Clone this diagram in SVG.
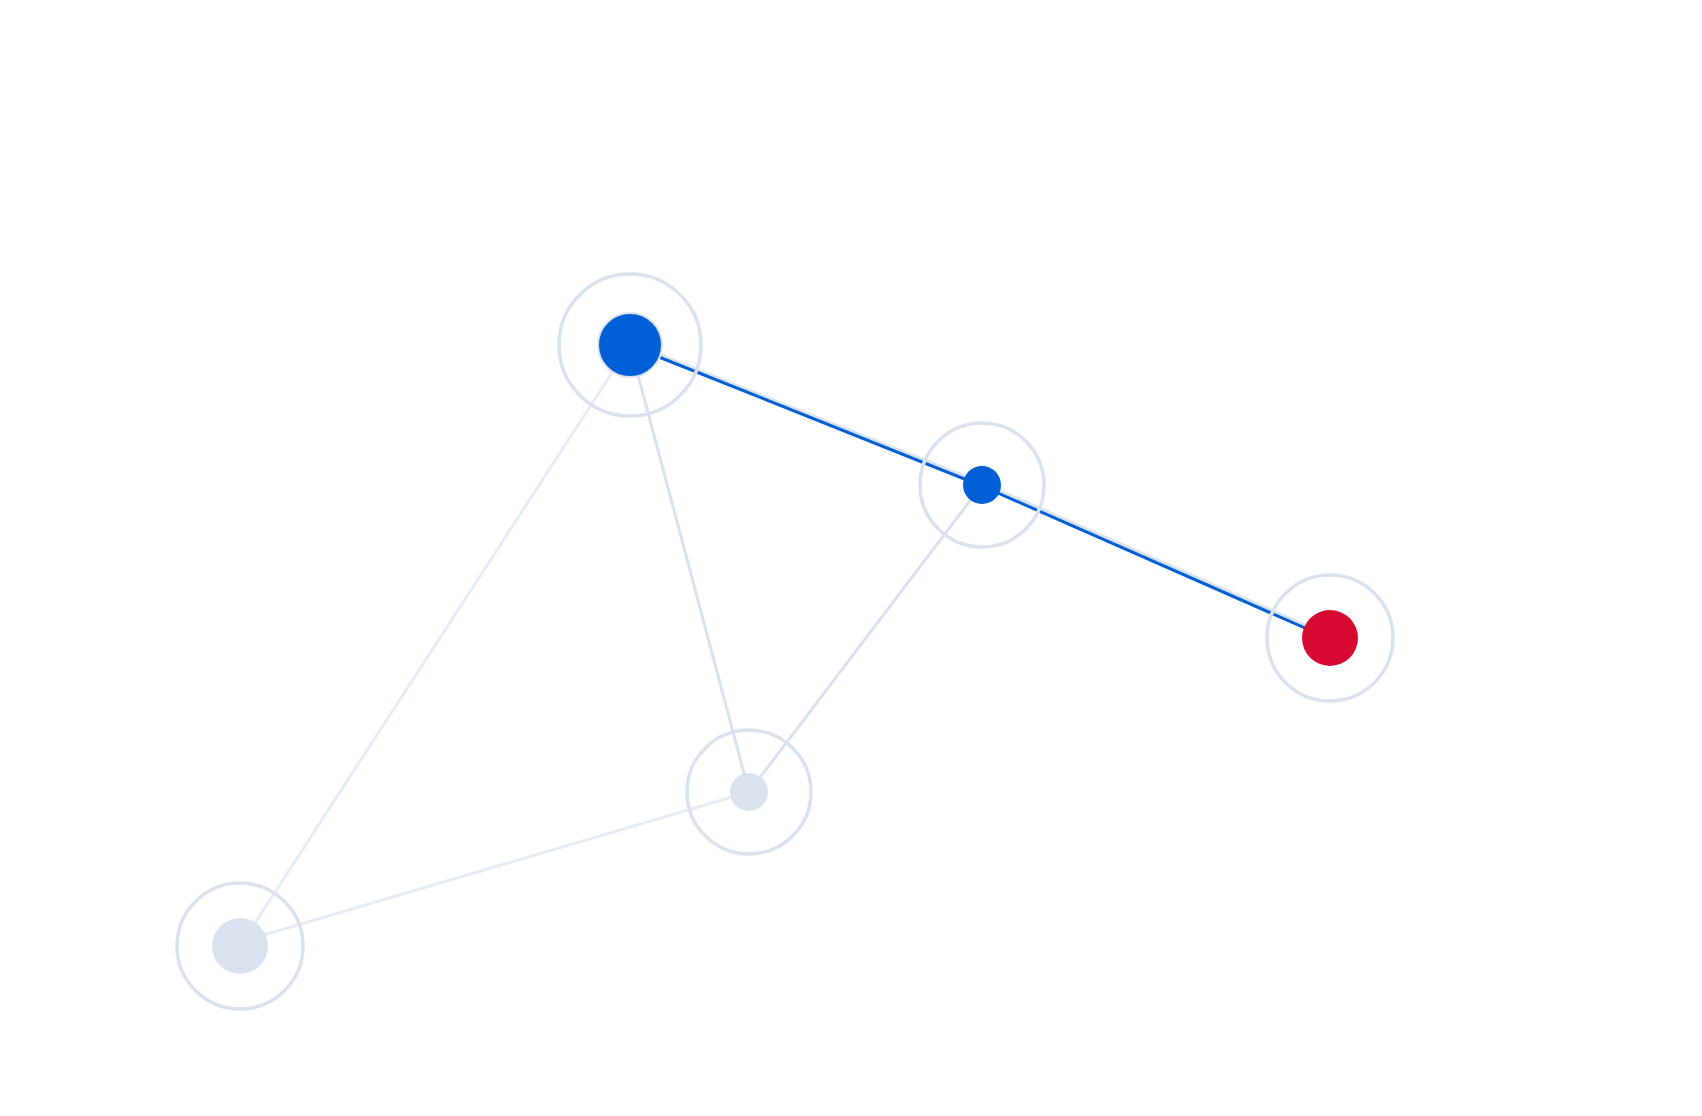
<svg xmlns="http://www.w3.org/2000/svg" width="1702" height="1116" viewBox="0 0 1702 1116">
<style>
.edge{stroke:#dae2f0;stroke-width:3;fill:none;stroke-linecap:round}
.edge.faint{stroke:#e6ecf6}
.path{stroke:#005fd4;stroke-width:3;fill:none;stroke-linecap:round;stroke-linejoin:round}
.halo{fill:none;stroke:#dae2f0;stroke-width:3.5}
.blue{fill:#005fd4}
.red{fill:#d60a31}
.idle{fill:#dae2f0}
</style>
<rect width="1702" height="1116" fill="#ffffff"/>
<g id="connectors">
<line class="edge faint" x1="630" y1="345" x2="240" y2="946"/>
<line class="edge faint" x1="749" y1="792" x2="240" y2="942"/>
<line class="edge" x1="630" y1="345" x2="749" y2="792"/>
<line class="edge" x1="982" y1="485" x2="749" y2="792"/>
<line class="edge" x1="630" y1="343" x2="982" y2="483"/>
<line class="edge" x1="982" y1="483" x2="1330" y2="636"/>
<polyline class="path" points="630,345.5 982,486 1330,639"/>
</g>
<g id="node-1">
<circle class="halo" cx="630" cy="345" r="71"/>
<circle class="blue" cx="630" cy="345" r="32" stroke="#dae2f0" stroke-width="2"/>
</g>
<g id="node-2">
<circle class="halo" cx="982" cy="485" r="62"/>
<circle class="blue" cx="982" cy="485" r="19"/>
</g>
<g id="node-3">
<circle class="halo" cx="1330" cy="638" r="63"/>
<circle class="red" cx="1330" cy="638" r="28"/>
</g>
<g id="node-4">
<circle class="halo" cx="749" cy="792" r="62"/>
<circle class="idle" cx="749" cy="792" r="19"/>
</g>
<g id="node-5">
<circle class="halo" cx="240" cy="946" r="63"/>
<circle class="idle" cx="240" cy="946" r="28"/>
</g>
</svg>
